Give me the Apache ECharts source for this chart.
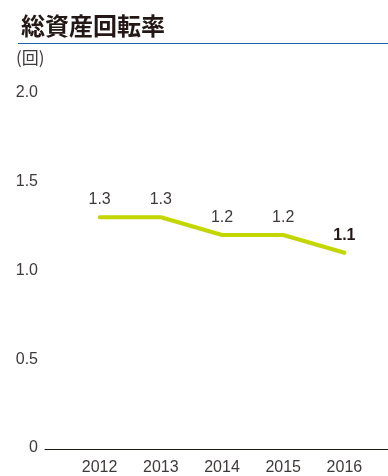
<!DOCTYPE html>
<html>
<head>
<meta charset="utf-8">
<script src="https://cdn.jsdelivr.net/npm/echarts@6/dist/echarts.min.js"></script>
<style>
  html, body { margin: 0; padding: 0; background: #fff; }
  #chart { width: 388px; height: 476px; }
</style>
</head>
<body>
<div id="chart"></div>
<script>
// Fiscal years and total asset turnover (times)
const years = ['2012', '2013', '2014', '2015', '2016'];
const turnover = [1.3, 1.3, 1.2, 1.2, 1.1];
const yTicks = [0, 0.5, 1.0, 1.5, 2.0];

const textColor = '#3e3a39';
const lineColor = '#c3d600';
const fontFamily = '"Liberation Sans", Arial, sans-serif';

const chart = echarts.init(document.getElementById('chart'), null, { renderer: 'canvas' });

chart.setOption({
  animation: false,
  textStyle: { fontFamily: fontFamily },
  title: {
    text: '総資産回転率',
    left: 16,
    top: 9,
    textStyle: {
      fontFamily: '"Noto Sans CJK JP", sans-serif',
      fontSize: 24,
      fontWeight: 'bold',
      color: '#231815'
    }
  },
  graphic: [
    {
      type: 'line',
      shape: { x1: 18, y1: 43.5, x2: 388, y2: 43.5 },
      style: { stroke: '#1f5fad', lineWidth: 1.2 }
    },
    {
      type: 'text',
      left: 16,
      top: 49,
      style: {
        text: '(回)',
        fontFamily: '"Noto Sans CJK JP", sans-serif',
        fontSize: 17,
        fill: textColor
      }
    }
  ],
  grid: [
    { left: 69, width: 306, top: 93, bottom: 27, containLabel: false },
    { left: 45, right: 0, top: 93, bottom: 27, containLabel: false }
  ],
  xAxis: [
    {
      type: 'category',
      gridIndex: 0,
      data: years,
      boundaryGap: true,
      axisLine: { show: false },
      axisTick: { show: false },
      axisLabel: { color: textColor, fontSize: 16, margin: 12 }
    },
    {
      // baseline running the full width under the plot
      type: 'value',
      gridIndex: 1,
      min: 0,
      max: 1,
      axisLine: { show: true, onZero: false, lineStyle: { color: '#231815', width: 1.2 } },
      axisTick: { show: false },
      axisLabel: { show: false },
      splitLine: { show: false }
    }
  ],
  yAxis: [
    {
      type: 'value',
      gridIndex: 0,
      min: yTicks[0],
      max: yTicks[yTicks.length - 1],
      interval: 0.5,
      axisLine: { show: false },
      axisTick: { show: false },
      splitLine: { show: false },
      axisLabel: {
        color: textColor,
        fontSize: 16,
        margin: 31,
        formatter: v => (v === 0 ? '0' : v.toFixed(1))
      }
    },
    {
      type: 'value',
      gridIndex: 1,
      min: 0,
      max: 2,
      show: false
    }
  ],
  series: [
    {
      type: 'line',
      xAxisIndex: 0,
      yAxisIndex: 0,
      data: turnover.map((v, i) => ({
        value: v,
        label: i === turnover.length - 1
          ? { fontWeight: 'bold', color: '#231815' }
          : {}
      })),
      // transparent symbols so the value labels are still placed
      symbol: 'circle',
      symbolSize: 1,
      showSymbol: true,
      itemStyle: { color: 'rgba(0,0,0,0)', borderWidth: 0 },
      lineStyle: { color: lineColor, width: 4, cap: 'round', join: 'round' },
      label: {
        show: true,
        position: 'top',
        distance: 9,
        color: textColor,
        fontSize: 16,
        formatter: p => p.value.toFixed(1)
      }
    }
  ]
});
</script>
</body>
</html>
